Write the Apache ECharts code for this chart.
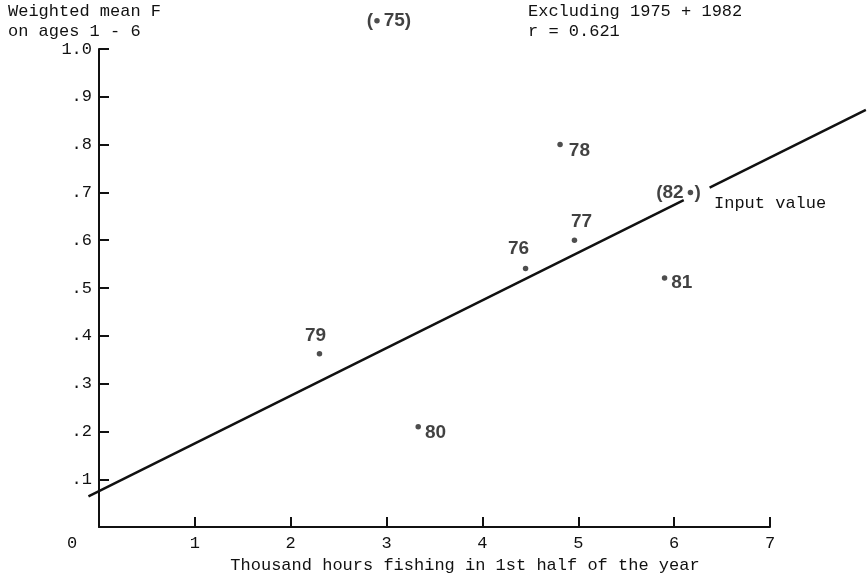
<!DOCTYPE html>
<html>
<head>
<meta charset="utf-8">
<script src="https://cdn.jsdelivr.net/npm/echarts@6/dist/echarts.min.js"></script>
<style>
  html, body { margin: 0; padding: 0; background: #fff; }
  #chart { width: 868px; height: 579px; }
</style>
</head>
<body>
<div id="chart"></div>
<script>
// Fishing effort (thousand hours, 1st half-year) vs weighted mean F (ages 1-6)
var years = ['75', '76', '77', '78', '79', '80', '81', '82'];
var effort = [2.90, 4.45, 4.96, 4.81, 2.30, 3.33, 5.90, 6.17];
var meanF = [1.059, 0.541, 0.60, 0.80, 0.3625, 0.21, 0.521, 0.70];

// Fitted line (excluding 1975 and 1982), drawn in two pieces around the 1982 label
var fitSegmentA = [[-0.11, 0.068], [6.10, 0.685]];
var fitSegmentB = [[6.37, 0.711], [8.0, 0.873]];

var xTicks = [0, 1, 2, 3, 4, 5, 6, 7];
var yTickLabels = ['', '.1', '.2', '.3', '.4', '.5', '.6', '.7', '.8', '.9', '1.0'];

var mono = '"Liberation Mono", "DejaVu Sans Mono", monospace';
var sans = '"Liberation Sans", Arial, sans-serif';
var ink = '#111';

// plot area in pixels; the fitted line runs past the axes, so it gets
// its own hidden, wider grid using the same scale
var plotLeft = 99, plotRight = 98, plotTop = 49, plotBottom = 50;
var xMin = 0, xMax = 7;
var lineXMin = -1, lineXMax = 8;
var pxPerUnit = (868 - plotLeft - plotRight) / (xMax - xMin);

// label placement for each year's point
var labelStyle = {
  '75': { position: 'right', offset: [-1, 0], text: '75)' },
  '76': { position: 'top', offset: [-7, -2], text: '76' },
  '77': { position: 'top', offset: [7, -1], text: '77' },
  '78': { position: 'right', offset: [1, 6], text: '78' },
  '79': { position: 'top', offset: [-4, -1], text: '79' },
  '80': { position: 'right', offset: [-1, 6], text: '80' },
  '81': { position: 'right', offset: [-1, 5], text: '81' },
  '82': { position: 'left', offset: [1, 0], text: '(82' }
};
// opening / closing brackets around the excluded years
var bracketStyle = {
  '75': { position: 'left', offset: [0, 0], text: '(' },
  '82': { position: 'right', offset: [0, 0], text: ')' }
};

var pointData = years.map(function (y, i) {
  var s = labelStyle[y];
  return {
    value: [effort[i], meanF[i]],
    label: { position: s.position, offset: s.offset, formatter: s.text }
  };
});
var bracketData = years.map(function (y, i) {
  var s = bracketStyle[y];
  if (!s) return null;
  return {
    value: [effort[i], meanF[i]],
    label: { position: s.position, offset: s.offset, formatter: s.text }
  };
}).filter(function (d) { return d; });

var chart = echarts.init(document.getElementById('chart'), null, { renderer: 'canvas' });

chart.setOption({
  backgroundColor: '#fff',
  animation: false,
  grid: [
    { left: plotLeft, right: plotRight, top: plotTop, bottom: plotBottom },
    {
      left: plotLeft + (lineXMin - xMin) * pxPerUnit,
      right: plotRight - (lineXMax - xMax) * pxPerUnit,
      top: plotTop, bottom: plotBottom
    }
  ],
  xAxis: [{
    type: 'value',
    gridIndex: 0,
    min: xMin, max: xMax, interval: 1,
    splitLine: { show: false },
    axisLine: { lineStyle: { color: ink, width: 2 } },
    axisTick: { inside: true, length: 10, lineStyle: { color: ink, width: 2 } },
    axisLabel: {
      margin: 8,
      color: ink,
      fontFamily: mono,
      fontSize: 17,
      formatter: function (v) {
        var i = xTicks.indexOf(v);
        if (i === 0) return '{o|0}';
        return String(xTicks[i]);
      },
      rich: { o: { fontFamily: mono, fontSize: 17, color: ink, padding: [0, 54, 0, 0] } }
    },
    name: 'Thousand hours fishing in 1st half of the year',
    nameLocation: 'middle',
    nameGap: 25,
    nameTextStyle: { color: ink, fontFamily: mono, fontSize: 17, padding: [0, 0, 0, 61] }
  }, {
    type: 'value',
    gridIndex: 1,
    min: lineXMin, max: lineXMax,
    show: false
  }],
  yAxis: [{
    type: 'value',
    gridIndex: 0,
    min: 0, max: 1, interval: 0.1,
    splitLine: { show: false },
    axisLine: { lineStyle: { color: ink, width: 2 } },
    axisTick: { inside: true, length: 10, lineStyle: { color: ink, width: 2 } },
    axisLabel: {
      margin: 7,
      color: ink,
      fontFamily: mono,
      fontSize: 17,
      formatter: function (v) { return yTickLabels[Math.round(v * 10)]; }
    }
  }, {
    type: 'value',
    gridIndex: 1,
    min: 0, max: 1,
    show: false
  }],
  graphic: [
    { type: 'text', left: 8, top: 3, style: { text: 'Weighted mean F', font: '17px ' + mono, fill: ink } },
    { type: 'text', left: 8, top: 23, style: { text: 'on ages 1 - 6', font: '17px ' + mono, fill: ink } },
    { type: 'text', left: 528, top: 3, style: { text: 'Excluding 1975 + 1982', font: '17px ' + mono, fill: ink } },
    { type: 'text', left: 528, top: 23, style: { text: 'r = 0.621', font: '17px ' + mono, fill: ink } },
    { type: 'text', left: 714, top: 195, style: { text: 'Input value', font: '17px ' + mono, fill: ink } }
  ],
  series: [
    {
      type: 'line',
      xAxisIndex: 1, yAxisIndex: 1,
      data: fitSegmentA,
      symbol: 'none',
      lineStyle: { color: ink, width: 2.5 },
      silent: true
    },
    {
      type: 'line',
      xAxisIndex: 1, yAxisIndex: 1,
      data: fitSegmentB,
      symbol: 'none',
      lineStyle: { color: ink, width: 2.5 },
      silent: true
    },
    {
      type: 'scatter',
      data: pointData,
      clip: false,
      symbol: 'circle',
      symbolSize: 5.5,
      itemStyle: { color: '#222' },
      label: {
        show: true,
        distance: 5,
        color: ink,
        fontFamily: sans,
        fontWeight: 'bold',
        fontSize: 19
      }
    },
    {
      type: 'scatter',
      data: bracketData,
      clip: false,
      symbolSize: 0,
      label: {
        show: true,
        distance: 4,
        color: ink,
        fontFamily: sans,
        fontWeight: 'bold',
        fontSize: 19
      }
    }
  ]
});
</script>
</body>
</html>
